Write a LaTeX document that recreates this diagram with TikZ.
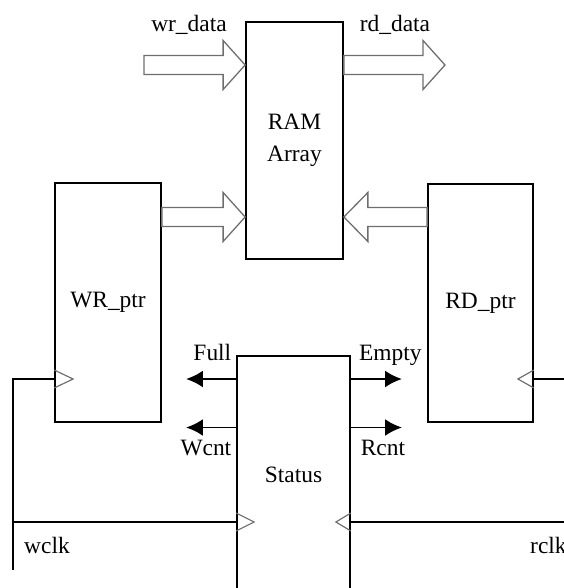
\documentclass[tikz,border=0pt]{standalone}
\usepackage{fontspec}
\setmainfont{Liberation Serif}
\usetikzlibrary{arrows.meta,calc}
\definecolor{busgray}{RGB}{110,110,110}

% hollow bus arrow: start, tip, head offset
\newcommand{\busarrow}[3]{%
  \draw[bus] ($(#1)+(0,-9.5)$) -- ($(#2)+(#3,-9.5)$) -- ($(#2)+(#3,-24.5)$) -- (#2)
    -- ($(#2)+(#3,24.5)$) -- ($(#2)+(#3,9.5)$) -- ($(#1)+(0,9.5)$) -- cycle;}
% clock input mark: point, depth
\newcommand{\clkmark}[2]{%
  \draw[clk] ($(#1)+(0,-9)$) -- ($(#1)+(#2,0)$) -- ($(#1)+(0,9)$);}

\begin{document}
\begin{tikzpicture}[x=0.3mm, y=-0.3mm,
    every node/.style={font=\fontsize{20}{27}\selectfont},
    blk/.style={draw, line width=1.5pt, align=center, inner sep=0pt},
    bus/.style={draw=busgray, line width=1.1pt, line join=miter},
    clk/.style={draw=busgray, line width=1pt},
    wire/.style={line width=1.5pt},
    sig/.style={line width=1.5pt, -{Latex[length=5mm, width=5mm]}},
    lbl/.style={text height=0.7em, text depth=0pt, inner sep=1.2mm}]
    \path[use as bounding box, clip] (0,0) rectangle (564,588);

    % Blocks
    \node[blk, minimum width=29.1mm, minimum height=71.1mm] (ram) at (294.5,140.5) {RAM\\Array};
    \node[blk, minimum width=31.8mm, minimum height=71.7mm] (wrptr) at (108,302.5) {WR\_ptr};
    \node[blk, minimum width=31.5mm, minimum height=71.4mm] (rdptr) at (480.5,303) {RD\_ptr};
    \node[blk, minimum width=33.9mm, minimum height=71.4mm] (status) at (293.5,475) {Status};

    % Rows
    \coordinate (row0) at (0,65);
    \coordinate (rowp) at (0,217);
    \coordinate (row1) at (0,379);
    \coordinate (row2) at (0,427.5);
    \coordinate (row3) at (0,522);
    \coordinate (wrin) at (144,65);
    \coordinate (rdout) at (445,65);
    \coordinate (wclkbot) at (13,570);
    \coordinate (redge) at (575,0);

    % Data buses
    \busarrow{wrin}{ram.west |- row0}{-22}
    \busarrow{ram.east |- row0}{rdout}{-22}
    \busarrow{wrptr.east |- rowp}{ram.west |- rowp}{-22}
    \busarrow{rdptr.west |- rowp}{ram.east |- rowp}{24}
    \node[lbl, anchor=base] (wrdata) at (189,31) {wr\_data};
    \node[lbl, anchor=base] (rddata) at (395,31) {rd\_data};

    % Status outputs
    \draw[sig] (status.west |- row1) node[lbl, above left, yshift=4.2mm] {Full} -- ++(-50,0);
    \draw[sig] (status.west |- row2) node[lbl, below left, yshift=-4.4mm] {Wcnt} -- ++(-50,0);
    \draw[sig] (status.east |- row1) node[lbl, above right, xshift=1mm, yshift=4.2mm] {Empty} -- ++(51,0);
    \draw[sig] (status.east |- row2) node[lbl, below right, xshift=1.5mm, yshift=-4.6mm] {Rcnt} -- ++(51,0);

    % Clocks
    \draw[wire] (wrptr.west |- row1) -| (wclkbot);
    \draw[wire] (status.west |- row3) -- (wclkbot |- row3);
    \draw[wire] (rdptr.east |- row1) -- (redge |- row1);
    \draw[wire] (status.east |- row3) -- (redge |- row3);
    \clkmark{wrptr.west |- row1}{19}
    \clkmark{status.west |- row3}{18}
    \clkmark{rdptr.east |- row1}{-16}
    \clkmark{status.east |- row3}{-15}
    \node[lbl, anchor=base west] (wclk) at (20,553) {wclk};
    \node[lbl, anchor=base west] (rclk) at (526,553) {rclk};
\end{tikzpicture}
\end{document}
